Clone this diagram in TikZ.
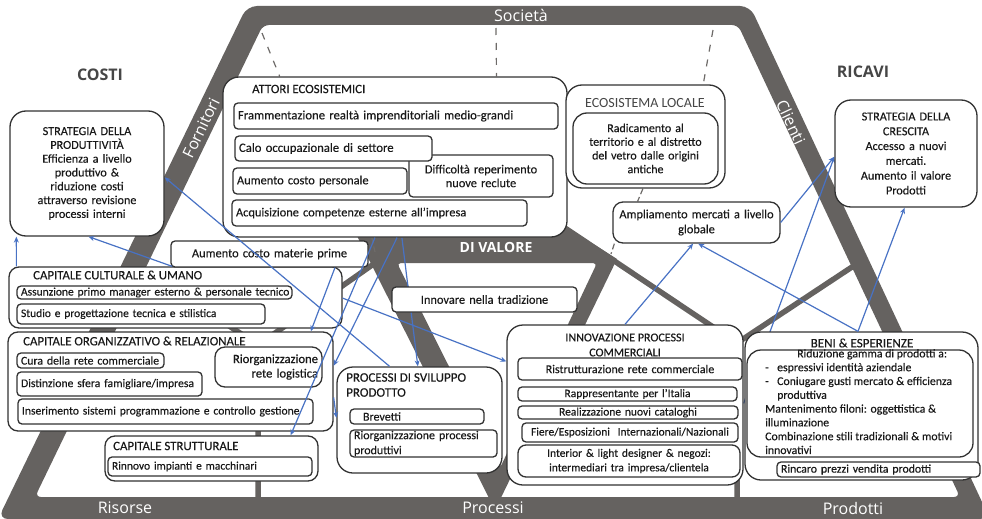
\documentclass[tikz,border=0pt]{standalone}
\usepackage{fontspec}
\setmainfont{Carlito}[FakeBold=0.25]
\newfontfamily\lightfont{Carlito}
\newfontfamily\bandfont{Open Sans}
\usetikzlibrary{arrows.meta,calc}

\definecolor{framegray}{RGB}{101,98,96}
\definecolor{dashgray}{RGB}{110,107,105}
\definecolor{boxline}{RGB}{50,50,50}
\definecolor{txt}{RGB}{25,25,25}
\definecolor{headgray}{RGB}{70,70,70}
\definecolor{arrowblue}{RGB}{72,114,196}

\pgfdeclarelayer{bg}
\pgfdeclarelayer{under}
\pgfdeclarelayer{top}
\pgfsetlayers{bg,under,main,top}

\newcommand\bodyfont{\fontsize{12.4}{13.8}\selectfont}
\newcommand\headfont{\fontsize{12.8}{14}\selectfont}

% box given by its corners (x1,y1)-(x2,y2) in picture units
\newcommand\bx[7][]{%
  \pgfmathsetmacro\bxW{#5-#3-8}%
  \pgfmathsetmacro\bxH{#6-#4}%
  \pgfmathsetmacro\bxX{(#3+#5)/2}%
  \pgfmathsetmacro\bxY{(#4+#6)/2}%
  \node[box,text width=\bxW pt,minimum height=\bxH pt,#1] (#2) at (\bxX,\bxY) {#7};}
% same, for a single line of text that must not wrap
\newcommand\bxs[7][]{\bx[#1]{#2}{#3}{#4}{#5}{#6}{\mbox{#7}}}

\tikzset{
  box/.style={draw=boxline, line width=1.3pt, fill=white, rounded corners=4pt,
    inner xsep=4pt, inner ysep=0pt, font=\bodyfont, text=txt, align=left},
  bigbox/.style={rounded corners=16pt},
  midbox/.style={rounded corners=10pt},
  label/.style={font=\headfont, text=txt, inner sep=0pt},
  bandtext/.style={font=\bandfont\fontsize{16}{18}\selectfont, text=white, inner sep=0pt},
  arr/.style={draw=arrowblue, line width=1.2pt, -{Stealth[length=6pt,width=5pt]}},
  dashlink/.style={draw=dashgray, line width=1.2pt, dash pattern=on 7pt off 8pt},
  bandline/.style={draw=framegray, line width=5.5pt},
}

\begin{document}
\begin{tikzpicture}[x=1pt,y=-1pt]
\useasboundingbox (0,0) rectangle (982,519);
\clip (0,0) rectangle (982,519);

\begin{pgfonlayer}{bg}
% outer frame
\fill[framegray, even odd rule, rounded corners=10pt]
  (247,6) -- (750,6) -- (990,519) -- (-2,519) -- cycle
  [rounded corners=6pt] (263,25) -- (738,25) -- (960,497) -- (35,497) -- cycle;
% inner value triangle
\fill[framegray, even odd rule]
  (352,226) -- (565,226) -- (617,259) -- (495,510) -- cycle
  [rounded corners=4pt] (397,263) -- (597,263) -- (500,468) -- cycle;
% links between triangle and frame
\draw[bandline] (258,500) -- (258,345) -- (425,228);
\draw[bandline] (258,345) -- (140,267);
\draw[bandline] (737,500) -- (737,343) -- (556,222);
\draw[bandline] (737,343) -- (855,265);
\end{pgfonlayer}

% band labels
\node[bandtext] (soc) at (521,15) {Società};
\node[bandtext, rotate=64] (forn) at (201,128) {Fornitori};
\node[bandtext, rotate=-65] (cli) at (791,122) {Clienti};
\node[bandtext] (ris) at (125,508) {Risorse};
\node[bandtext] (proc) at (493,508) {Processi};
\node[bandtext] (prod) at (853,508) {Prodotti};
\node[bandtext, font=\bandfont\bfseries\fontsize{14}{16}\selectfont] (dival) at (496,247) {DI VALORE};

\node[font=\bandfont\bfseries\fontsize{16}{18}\selectfont, text=headgray] (costi) at (100,75) {COSTI};
\node[font=\bandfont\bfseries\fontsize{16}{18}\selectfont, text=headgray] (ricavi) at (863,72) {RICAVI};

% ---------- cost and revenue strategies ----------
\bx[bigbox, align=center, font=\fontsize{12.2}{13.8}\selectfont]{strat}{10}{111}{164}{236}{STRATEGIA DELLA\\PRODUTTIVITÀ\\Efficienza a livello\\produttivo \&\\riduzione costi\\attraverso revisione\\processi interni}
\bx[bigbox, align=center, font=\fontsize{12.2}{14.8}\selectfont]{crescita}{835}{100}{977}{207}{STRATEGIA DELLA\\CRESCITA\\Accesso a nuovi\\mercati.\\Aumento il valore\\Prodotti}

% ---------- ecosystem actors ----------
\bx[bigbox]{attori}{223}{77}{567}{237}{}
\node[label, anchor=west] (attoriT) at (252,89) {ATTORI ECOSISTEMICI};
\bxs[font=\fontsize{12.7}{14}\selectfont]{framm}{234}{103}{558}{129}{Frammentazione realtà imprenditoriali medio-grandi}
\bx[align=center]{diff}{409}{155}{553}{197}{Difficoltà reperimento\\nuove reclute}
\bxs[font=\fontsize{12.7}{14}\selectfont]{calo}{235}{136}{432}{161}{Calo occupazionale di settore}
\bxs{aument}{233}{168}{407}{194}{Aumento costo personale}
\bxs{acq}{232}{200}{527}{226}{Acquisizione competenze esterne all'impresa}

\bx[bigbox]{eco}{566}{85}{725}{188}{}
\node[label, font=\lightfont\fontsize{14}{16}\selectfont, text=headgray] (ecoT) at (645,103) {ECOSISTEMA LOCALE};
\bx[rounded corners=14pt, align=center, font=\fontsize{12}{13.7}\selectfont]{ecoin}{573}{113}{718}{184}{Radicamento al\\territorio e al distretto\\del vetro dalle origini\\antiche}

\bx[midbox, align=center, font=\fontsize{12.4}{15}\selectfont]{ampl}{613}{202}{780}{243}{Ampliamento mercati a livello\\globale}

% dashed ties to the society band
\coordinate (s1) at (262,33);
\coordinate (s2) at (496,28);
\coordinate (s3) at (713,30);
\coordinate (s5) at (375,252);
\coordinate (s6) at (611,254);
\begin{pgfonlayer}{bg}
\draw[dashlink] (s1) -- ($(attori.north west)!0.166!(attori.north east)$);
\draw[dashlink] (s2) -- ($(attori.north west)!0.794!(attori.north east)$);
\draw[dashlink] (s3) -- ($(eco.north west)!0.86!(eco.north east)$);
\draw[dashlink, dash pattern=on 6pt off 3pt] ($(attori.south west)!0.433!(attori.south east)$) -- (s5);
\draw[dashlink, dash pattern=on 6pt off 3pt] ($(eco.south west)!0.484!(eco.south east)$) -- ($(ampl.north west)!0.15!(ampl.north east)$);
\draw[dashlink, dash pattern=on 6pt off 3pt] ($(ampl.south west)!0.012!(ampl.south east)$) -- (s6);
\end{pgfonlayer}

% ---------- capitals ----------
\bx[midbox]{cult}{9}{267}{342}{328}{}
\node[label, anchor=west] (cultT) at (33,275) {CAPITALE CULTURALE \& UMANO};
\bxs[font=\fontsize{11.5}{13}\selectfont]{assun}{17}{286}{292}{299}{Assunzione primo manager esterno \& personale tecnico}
\bxs[font=\fontsize{11.5}{13}\selectfont]{studio}{17}{304}{265}{324}{Studio e progettazione tecnica e stilistica}

\bxs[align=center]{materie}{171}{241}{368}{267}{Aumento costo materie prime}

\bx[midbox]{org}{8}{332}{333}{431}{}
\node[label, anchor=west] (orgT) at (23,341) {CAPITALE ORGANIZZATIVO \& RELAZIONALE};
\bxs[font=\fontsize{11.8}{13}\selectfont]{cura}{17}{353}{164}{368}{Cura della rete commerciale}
\bxs[font=\fontsize{11.7}{13}\selectfont]{dist}{17}{372}{202}{396}{Distinzione sfera famigliare/impresa}
\bxs[font=\fontsize{11.6}{13}\selectfont]{inser}{18}{399}{313}{424}{Inserimento sistemi programmazione e controllo gestione}
\bx[midbox, align=right, font=\fontsize{12.6}{14.5}\selectfont]{riorgL}{215}{347}{322}{387}{Riorganizzazione\\rete logistica}

\bx[midbox]{strut}{105}{436}{318}{481}{}
\node[label, anchor=west] (strutT) at (113,446) {CAPITALE STRUTTURALE};
\bxs[font=\fontsize{11.5}{13}\selectfont]{rinnovo}{108}{457}{312}{476}{Rinnovo impianti e macchinari}

% ---------- processes ----------
\bxs[align=center]{innovare}{392}{287}{577}{312}{Innovare nella tradizione}

\bx[bigbox]{procsv}{337}{367}{502}{473}{}
\node[label, anchor=west, align=left, font=\fontsize{13}{15}\selectfont] (procsvT) at (346,385) {PROCESSI DI SVILUPPO\\PRODOTTO};
\bxs[font=\fontsize{12}{13}\selectfont]{brev}{350}{409}{484}{424}{\hspace*{9pt}Brevetti}
\bx[font=\fontsize{12}{15}\selectfont]{riorgP}{350}{430}{497}{457}{Riorganizzazione processi\\produttivi}

\bx[bigbox]{innov}{507}{325}{743}{485}{}
\node[label, align=center, font=\fontsize{12}{15}\selectfont] (innovT) at (625,345) {INNOVAZIONE PROCESSI\\COMMERCIALI};
\bxs[align=center, font=\fontsize{12}{13}\selectfont]{ristr}{518}{358}{742}{380}{Ristrutturazione rete commerciale}
\bxs[align=center, font=\fontsize{11.5}{13}\selectfont]{rappr}{518}{387}{737}{401}{Rappresentante per l'Italia}
\bxs[align=center, font=\fontsize{11.5}{13}\selectfont]{realizz}{518}{406}{738}{419}{Realizzazione nuovi cataloghi}
\bxs[align=center, font=\fontsize{11.5}{13}\selectfont]{fiere}{522}{423}{738}{442}{Fiere/Esposizioni\ \ Internazionali/Nazionali}
\bx[align=center, rounded corners=8pt, font=\fontsize{11.5}{14.5}\selectfont]{interior}{518}{445}{740}{477}{Interior \& light designer \& negozi:\\intermediari tra impresa/clientela}

% ---------- products ----------
\bx[bigbox]{beni}{745}{332}{978}{480}{}
\node[label, font=\fontsize{13}{14}\selectfont] (beniT) at (862,343) {BENI \& ESPERIENZE};
\bx[rounded corners=14pt]{beniin}{747}{350}{973}{457}{}
\node[label, anchor=north west, align=left, font=\fontsize{11.8}{13.8}\selectfont] (beniTx) at (765,349)
  {\hspace*{32pt}Riduzione gamma di prodotti a:\\
   \makebox[12pt][l]{-}espressivi identità aziendale\\
   \makebox[12pt][l]{-}Coniugare gusti mercato \& efficienza\\
   \hspace*{12pt}produttiva\\
   Mantenimento filoni: oggettistica \&\\
   illuminazione\\
   Combinazione stili tradizionali \& motivi\\
   innovativi};
\bxs[font=\fontsize{11.8}{13}\selectfont]{rincaro}{777}{462}{980}{477}{Rincaro prezzi vendita prodotti}

% ---------- arrows passing behind boxes ----------
\begin{pgfonlayer}{under}
\draw[arr] ($(attori.south west)!0.52!(attori.south east)$) -- ($(procsv.north west)!0.49!(procsv.north east)$);
\draw[arr] ($(innov.north east)!0.49!(innov.south east)$) -- ($(crescita.north west)!0.53!(crescita.south west)$);
\end{pgfonlayer}

% ---------- arrows ----------
\begin{pgfonlayer}{top}
\draw[arr] ($(procsv.north west)!0.32!(procsv.north east)$) -- ($(strat.north east)!0.53!(strat.south east)$);
\draw[arr] ($(cult.north west)!0.49!(cult.north east)$) -- ($(strat.south west)!0.51!(strat.south east)$);
\draw[arr] ($(cult.north west)!0.024!(cult.north east)$) -- ($(strat.south west)!0.045!(strat.south east)$);
\draw[arr] ($(attori.south west)!0.442!(attori.south east)$) -- ($(strut.north west)!0.869!(strut.north east)$);
\draw[arr] ($(attori.south west)!0.506!(attori.south east)$) -- ($(org.north east)!0.343!(org.south east)$);
\draw[arr] ($(materie.south west)!0.83!(materie.south east)$) -- ($(org.north west)!0.93!(org.north east)$);
\draw[arr] ($(cult.north east)!0.51!(cult.south east)$) -- ($(innov.north west)!0.23!(innov.south west)$);
\draw[arr] ($(org.north east)!0.66!(org.south east)$) -- ($(procsv.north west)!0.48!(procsv.south west)$);
\draw[arr] ($(innov.north west)!0.5!(innov.north east)$) -- ($(ampl.south west)!0.48!(ampl.south east)$);
\draw[arr] ($(beni.north west)!0.485!(beni.north east)$) -- ($(ampl.south west)!0.51!(ampl.south east)$);
\draw[arr] ($(beni.north west)!0.485!(beni.north east)$) -- ($(crescita.south west)!0.49!(crescita.south east)$);
\draw[arr] (ampl.east) -- ($(crescita.north west)!0.53!(crescita.south west)$);
\end{pgfonlayer}
\end{tikzpicture}
\end{document}
